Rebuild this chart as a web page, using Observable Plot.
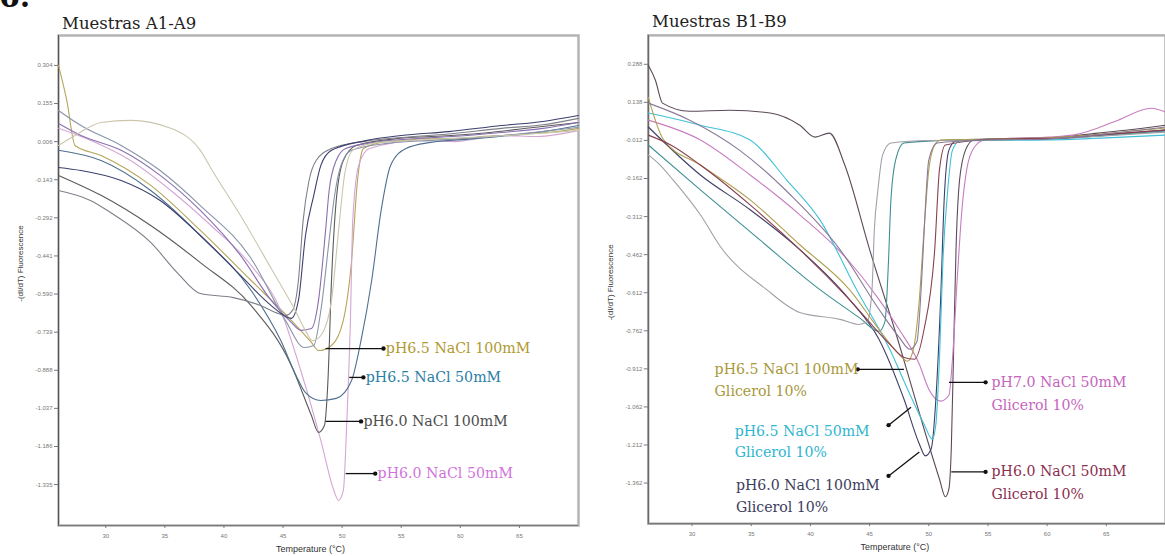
<!DOCTYPE html>
<html><head><meta charset="utf-8">
<script src="https://cdn.jsdelivr.net/npm/d3@7"></script>
<script src="https://cdn.jsdelivr.net/npm/@observablehq/plot@0.6"></script>
<style>
html,body{margin:0;padding:0;background:#fff;overflow:hidden}
#wrap{position:relative;width:1165px;height:556px;overflow:hidden;background:#fff}
.panel{position:absolute;top:0}
.title{position:absolute;font-family:"DejaVu Serif",serif;font-size:16.5px;color:#222;white-space:nowrap;line-height:20px}
</style></head><body>
<div id="wrap">
  <div style="position:absolute;left:-1px;top:-21px;font:bold 30px 'DejaVu Serif',serif;color:#111;line-height:36px">6.</div>
  <div id="left" class="panel" style="left:0"></div>
  <div id="right" class="panel" style="left:590px"></div>
  <div class="title" style="left:62px;top:14px">Muestras A1-A9</div>
  <div class="title" style="left:652px;top:12px">Muestras B1-B9</div>
</div>
<script>
// ---- tick labels ----
const tempTicks = [30, 35, 40, 45, 50, 55, 60, 65];
const yTicksA = [0.304, 0.155, 0.006, -0.143, -0.292, -0.441, -0.590, -0.739, -0.888, -1.037, -1.186, -1.335];
const yTicksB = [0.288, 0.138, -0.012, -0.162, -0.312, -0.462, -0.612, -0.762, -0.912, -1.062, -1.212, -1.362];

// ---- Muestras A1-A9 : [temperature °C, -(dI/dT)] ----
const A1 = [[26.0,0.304],[26.7,0.167],[27.4,-0.009],[29.6,-0.048],[33.8,-0.165],[38.0,-0.341],[42.3,-0.537],[45.7,-0.693],[47.4,-0.779],[48.0,-0.811],[49.1,-0.791],[50.1,-0.693],[50.8,-0.459],[51.3,-0.146],[51.8,-0.021],[53.3,0.003],[55.5,0.012],[57.5,0.019],[60.0,0.015],[61.8,0.026],[64.0,0.031],[66.0,0.038],[68.0,0.044],[70.0,0.058]];
const A2 = [[26.0,0.058],[28.7,0.011],[32.1,-0.068],[35.5,-0.185],[38.9,-0.322],[42.3,-0.478],[44.8,-0.654],[46.5,-0.889],[48.2,-1.163],[49.3,-1.358],[49.7,-1.397],[50.1,-1.358],[50.4,-1.084],[50.7,-0.693],[50.9,-0.302],[51.4,-0.087],[52.3,-0.021],[56.7,0.011],[59.5,0.006],[63.5,0.030],[66.5,0.026],[70.0,0.050]];
const A3 = [[26.0,-0.126],[29.6,-0.204],[33.8,-0.322],[38.0,-0.467],[42.3,-0.635],[45.7,-0.869],[47.4,-1.065],[48.0,-1.131],[48.5,-1.104],[48.8,-0.928],[49.1,-0.537],[49.5,-0.224],[50.1,-0.068],[51.2,-0.009],[55.0,0.019],[59.2,0.030],[62.5,0.042],[66.0,0.060],[70.0,0.081]];
const A4 = [[26.0,-0.028],[29.6,-0.068],[33.8,-0.185],[38.0,-0.361],[42.3,-0.576],[44.8,-0.771],[46.1,-0.908],[46.9,-0.975],[48.2,-1.006],[49.5,-0.998],[50.8,-0.928],[51.6,-0.771],[52.5,-0.537],[53.3,-0.263],[54.1,-0.087],[55.4,-0.021],[57.5,0.003],[60.5,0.015],[63.5,0.027],[67.0,0.045],[70.0,0.069]];
const A5 = [[26.0,-0.185],[28.7,-0.224],[30.4,-0.271],[33.8,-0.388],[36.1,-0.509],[38.0,-0.588],[40.8,-0.604],[43.1,-0.635],[44.6,-0.666],[45.2,-0.674],[45.8,-0.654],[46.3,-0.537],[46.7,-0.302],[47.2,-0.146],[47.8,-0.068],[49.1,-0.021],[52.0,0.008],[55.0,0.022],[59.0,0.036],[63.5,0.058],[67.0,0.072],[70.0,0.097]];
const A6 = [[26.0,0.077],[27.9,0.030],[31.3,-0.028],[34.6,-0.126],[38.0,-0.263],[41.4,-0.439],[44.0,-0.615],[45.7,-0.701],[46.5,-0.732],[47.4,-0.725],[48.0,-0.615],[48.6,-0.341],[48.9,-0.185],[49.5,-0.068],[50.3,-0.021],[53.0,0.005],[56.7,0.019],[60.0,0.028],[63.5,0.042],[67.0,0.058],[70.0,0.081]];
const A7 = [[26.0,0.128],[27.9,0.069],[31.3,-0.009],[34.6,-0.107],[38.0,-0.244],[42.3,-0.451],[45.2,-0.693],[46.8,-0.799],[47.6,-0.791],[48.2,-0.654],[48.9,-0.380],[49.3,-0.224],[49.9,-0.087],[50.8,-0.028],[54.0,0.000],[57.5,0.011],[61.0,0.020],[65.0,0.036],[70.0,0.062]];
const A8 = [[26.0,-0.095],[27.9,-0.107],[31.3,-0.146],[34.6,-0.224],[38.0,-0.361],[41.4,-0.517],[44.0,-0.635],[45.7,-0.685],[46.3,-0.615],[46.9,-0.361],[47.6,-0.204],[48.2,-0.087],[49.1,-0.028],[52.0,0.010],[55.0,0.030],[59.0,0.045],[63.5,0.069],[67.0,0.085],[70.0,0.108]];
const A9 = [[26.0,-0.009],[27.4,0.030],[29.6,0.081],[32.1,0.089],[35.5,0.058],[38.0,-0.028],[39.1,-0.114],[41.4,-0.283],[44.0,-0.490],[45.9,-0.643],[46.9,-0.733],[47.5,-0.772],[48.2,-0.752],[49.1,-0.615],[49.7,-0.341],[50.2,-0.126],[50.9,-0.028],[52.5,-0.001],[55.5,0.010],[59.2,0.019],[64.0,0.030],[70.0,0.050]];
const seriesA = [A1, A2, A3, A4, A5, A6, A7, A8, A9];
const colorsA = ["#b5a55a", "#d4a6d6", "#5a5a5a", "#4e6f8e", "#7f7f8a", "#8a6fb0", "#8895a8", "#3b3f6e", "#cbc6ae"];

// ---- Muestras B1-B9 ----
const B1 = [[26.3,0.284],[26.9,0.225],[27.5,0.135],[29.8,0.103],[33.2,0.107],[36.6,0.096],[39.1,0.048],[40.4,0.001],[41.6,0.017],[42.9,-0.109],[45.0,-0.442],[47.5,-0.815],[49.6,-1.149],[50.9,-1.346],[51.4,-1.416],[51.7,-1.385],[51.9,-1.228],[52.1,-0.835],[52.3,-0.442],[52.6,-0.168],[53.1,-0.050],[53.8,-0.010],[57.0,-0.004],[60.1,-0.002],[64.3,0.017],[67.0,0.030],[70.0,0.048]];
const B2 = [[26.3,0.068],[30.7,-0.010],[34.9,-0.148],[39.1,-0.305],[43.3,-0.490],[45.8,-0.639],[47.5,-0.757],[49.2,-0.894],[50.0,-0.992],[51.0,-1.039],[51.7,-1.016],[52.0,-0.874],[52.4,-0.560],[52.8,-0.285],[53.2,-0.128],[53.8,-0.042],[54.7,-0.010],[57.5,-0.004],[60.1,0.001],[62.5,0.012],[64.3,0.037],[66.0,0.068],[68.8,0.115],[70.0,0.100]];
const B3 = [[26.3,0.041],[30.7,-0.148],[34.9,-0.285],[39.1,-0.442],[43.3,-0.639],[45.8,-0.796],[47.9,-1.031],[49.2,-1.208],[49.7,-1.255],[50.2,-1.228],[50.6,-1.031],[51.0,-0.639],[51.3,-0.246],[51.7,-0.050],[52.3,-0.014],[56.0,-0.008],[60.1,-0.006],[65.0,0.010],[70.0,0.029]];
const B4 = [[26.3,0.096],[30.7,0.048],[34.9,-0.010],[38.0,-0.168],[40.8,-0.325],[43.9,-0.600],[46.7,-0.835],[48.4,-1.012],[49.6,-1.130],[50.3,-1.189],[50.6,-1.130],[50.9,-0.874],[51.2,-0.482],[51.6,-0.207],[52.0,-0.050],[52.6,-0.014],[56.0,-0.012],[60.1,-0.010],[65.0,-0.002],[70.0,0.009]];
const B5 = [[26.3,-0.030],[30.7,-0.207],[35.7,-0.403],[40.8,-0.600],[44.1,-0.709],[45.8,-0.764],[46.3,-0.725],[46.6,-0.482],[46.8,-0.246],[47.2,-0.089],[47.9,-0.022],[51.0,-0.012],[55.9,-0.006],[61.0,-0.004],[65.5,0.010],[70.0,0.025]];
const B6 = [[26.3,-0.069],[27.3,-0.109],[28.4,-0.168],[30.7,-0.305],[32.4,-0.431],[36.3,-0.600],[39.1,-0.690],[42.5,-0.717],[44.1,-0.737],[44.8,-0.725],[45.2,-0.600],[45.4,-0.364],[45.7,-0.207],[46.1,-0.069],[46.8,-0.022],[50.0,-0.012],[55.9,-0.010],[61.0,-0.003],[65.5,0.008],[70.0,0.021]];
const B7 = [[26.3,0.158],[27.6,-0.010],[30.7,-0.109],[34.9,-0.246],[39.1,-0.423],[43.3,-0.600],[45.8,-0.757],[47.5,-0.855],[48.2,-0.882],[48.7,-0.835],[49.2,-0.639],[49.6,-0.364],[50.0,-0.128],[50.5,-0.030],[51.0,-0.010],[55.5,-0.006],[60.1,-0.002],[65.0,0.015],[70.0,0.037]];
const B8 = [[26.3,0.009],[28.2,-0.030],[30.7,-0.109],[34.9,-0.266],[39.1,-0.442],[43.3,-0.639],[46.7,-0.815],[47.9,-0.867],[48.8,-0.874],[49.6,-0.757],[50.5,-0.442],[50.9,-0.128],[51.4,-0.030],[55.9,-0.006],[60.5,-0.004],[65.0,0.012],[70.0,0.029]];
const B9 = [[26.3,0.135],[29.8,0.068],[34.0,-0.050],[38.3,-0.226],[42.5,-0.442],[45.8,-0.678],[47.5,-0.788],[48.4,-0.835],[49.0,-0.804],[49.4,-0.560],[49.7,-0.285],[50.0,-0.089],[50.7,-0.022],[55.0,-0.010],[60.1,-0.006],[65.0,0.014],[70.0,0.041]];
const seriesB = [B1, B2, B3, B4, B5, B6, B7, B8, B9];
const colorsB = ["#5b4a58", "#c77cc0", "#3d3f66", "#40c0d8", "#3f8f95", "#a0a0a8", "#b0a050", "#8a4050", "#8a7a98"];

// ---- annotations ----
const pointersA = [
  {x1: 48.6, y1: -0.803, x2: 53.5, y2: -0.803},
  {x1: 50.6, y1: -0.916, x2: 51.8, y2: -0.916},
  {x1: 48.6, y1: -1.088, x2: 51.6, y2: -1.088},
  {x1: 50.3, y1: -1.292, x2: 52.8, y2: -1.292}
];
const labelsA = [
  {x: 53.7, y: -0.803, t: "pH6.5 NaCl 100mM", c: "#b09a30"},
  {x: 52.0, y: -0.916, t: "pH6.5 NaCl 50mM", c: "#2b7ea6"},
  {x: 51.8, y: -1.088, t: "pH6.0 NaCl 100mM", c: "#4d4d4d"},
  {x: 53.0, y: -1.292, t: "pH6.0 NaCl 50mM", c: "#d173dc"}
];
const pointersB = [
  {x1: 47.9, y1: -0.914, x2: 44.0, y2: -0.914},
  {x1: 48.5, y1: -1.063, x2: 46.6, y2: -1.134},
  {x1: 49.2, y1: -1.240, x2: 46.6, y2: -1.334},
  {x1: 51.7, y1: -0.965, x2: 54.8, y2: -0.965},
  {x1: 51.9, y1: -1.318, x2: 54.8, y2: -1.318}
];
const labelsB = [
  {x: 31.9, y: -0.914, t: "pH6.5 NaCl 100mM", c: "#a8983a"},
  {x: 31.9, y: -1.000, t: "Glicerol 10%", c: "#a8983a"},
  {x: 33.6, y: -1.157, t: "pH6.5 NaCl 50mM", c: "#2fb5cf"},
  {x: 33.6, y: -1.240, t: "Glicerol 10%", c: "#2fb5cf"},
  {x: 33.7, y: -1.373, t: "pH6.0 NaCl 100mM", c: "#3d3d5e"},
  {x: 33.7, y: -1.460, t: "Glicerol 10%", c: "#3d3d5e"},
  {x: 55.3, y: -0.965, t: "pH7.0 NaCl 50mM", c: "#c565bd"},
  {x: 55.3, y: -1.055, t: "Glicerol 10%", c: "#c565bd"},
  {x: 55.3, y: -1.318, t: "pH6.0 NaCl 50mM", c: "#8b2f4f"},
  {x: 55.3, y: -1.405, t: "Glicerol 10%", c: "#8b2f4f"}
];

function panel(o) {
  const [x0] = o.xDomain, [y0] = o.yDomain;
  return Plot.plot({
    width: o.width, height: 556,
    marginLeft: 58, marginRight: o.mr, marginTop: 35, marginBottom: 31,
    x: {domain: o.xDomain, axis: null},
    y: {domain: o.yDomain, axis: null},
    style: {fontFamily: "'Liberation Sans', Arial, sans-serif", background: "transparent", overflow: "visible"},
    marks: [
      Plot.frame({stroke: "#b4b4b4", strokeWidth: 2.5}),
      Plot.ruleX([x0], {stroke: "#555", strokeWidth: 1}),
      Plot.ruleY([y0], {stroke: "#777", strokeWidth: 1.2}),
      Plot.axisY({ticks: o.yTicks, tickSize: 4, tickPadding: 2, tickFormat: d => d.toFixed(3), fontSize: 6, color: "#777"}),
      Plot.axisX({ticks: tempTicks, tickSize: 3, tickPadding: 5, tickFormat: d => String(d), fontSize: 6, color: "#777"}),
      Plot.text(["-(dI/dT) Fluorescence"], {frameAnchor: "left", rotate: -90, dx: -38, dy: o.ylabDy, textAnchor: "middle", lineAnchor: "middle", fontSize: 8, fill: "#333"}),
      Plot.text(["Temperature (°C)"], {frameAnchor: "bottom", dx: o.xlabDx, dy: 24, textAnchor: "middle", lineAnchor: "middle", fontSize: 9, fill: "#333"}),
      ...o.series.map((s, i) => Plot.line(s, {x: d => d[0], y: d => d[1], stroke: o.colors[i], strokeWidth: 1.1, curve: "monotone-x"})),
      Plot.link(o.pointers, {x1: "x1", y1: "y1", x2: "x2", y2: "y2", stroke: "#111", strokeWidth: 1.3, markerEnd: "dot"}),
      ...o.labels.map(l => Plot.text([l], {x: "x", y: "y", text: "t", fill: l.c, textAnchor: "start", lineAnchor: "middle", fontFamily: "'DejaVu Serif', serif", fontSize: 14.2}))
    ]
  });
}

document.getElementById("left").append(panel({
  width: 582, mr: 4, xDomain: [26, 70], yDomain: [-1.495, 0.421], yTicks: yTicksA,
  series: seriesA, colors: colorsA, pointers: pointersA, labels: labelsA, ylabDy: -17, xlabDx: -8
}));
document.getElementById("right").append(panel({
  width: 577, mr: 0, xDomain: [26.3, 70.0], yDomain: [-1.522, 0.402], yTicks: yTicksB,
  series: seriesB, colors: colorsB, pointers: pointersB, labels: labelsB, ylabDy: 3, xlabDx: -12
}));
</script>
</body></html>
